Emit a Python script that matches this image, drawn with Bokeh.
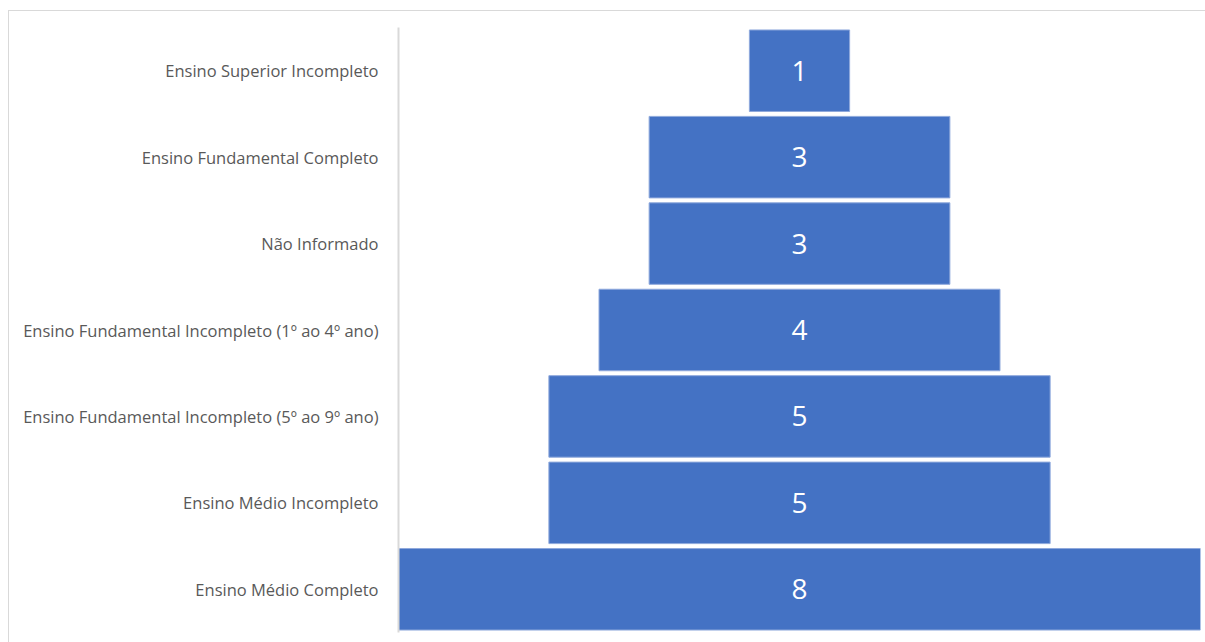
from bokeh.plotting import figure
from bokeh.models import Range1d, FixedTicker, ColumnDataSource
from bokeh.core.properties import value
from bokeh.embed import file_html
from bokeh.resources import INLINE

# Education levels, top of the funnel first
categories = [
    "Ensino Superior Incompleto",
    "Ensino Fundamental Completo",
    "Não Informado",
    "Ensino Fundamental Incompleto (1º ao 4º ano)",
    "Ensino Fundamental Incompleto (5º ao 9º ano)",
    "Ensino Médio Incompleto",
    "Ensino Médio Completo",
]
counts = [1, 3, 3, 4, 5, 5, 8]

rows = list(range(1, len(categories) + 1))
half = max(counts) / 2

source = ColumnDataSource(data=dict(
    y=rows,
    left=[-c / 2 for c in counts],
    right=[c / 2 for c in counts],
    label=[str(c) for c in counts],
    x=[0] * len(counts),
))

p = figure(
    width=1197, height=632,
    x_range=Range1d(-half, half),
    y_range=Range1d(len(categories) + 0.5, 0.5),
    output_backend="svg",
    toolbar_location=None,
    min_border_left=389, min_border_right=6,
    min_border_top=16, min_border_bottom=11,
    margin=(10, 0, 0, 8),
    styles={"border-top": "1px solid #d9d9d9", "border-left": "1px solid #d9d9d9"},
)

p.hbar(y="y", left="left", right="right", height=0.943, source=source,
       fill_color="#4472C4", line_color="#8fa9dc", line_width=1)

p.text(x="x", y="y", text="label", source=source,
       text_color="white", text_font=value("Open Sans"),
       text_font_size="28px", text_align="center", text_baseline="middle")

p.xaxis.visible = False
p.grid.visible = False
p.outline_line_color = None

yax = p.yaxis[0]
yax.ticker = FixedTicker(ticks=rows)
yax.major_label_overrides = {r: c for r, c in zip(rows, categories)}
yax.major_tick_line_color = None
yax.minor_tick_line_color = None
yax.axis_line_color = "#d9d9d9"
yax.axis_line_width = 2
yax.major_label_text_color = "#595959"
yax.major_label_text_font = "Open Sans"
yax.major_label_text_font_size = "16.5px"
yax.major_label_standoff = 14

open("out.html", "w").write(file_html(p, INLINE))
